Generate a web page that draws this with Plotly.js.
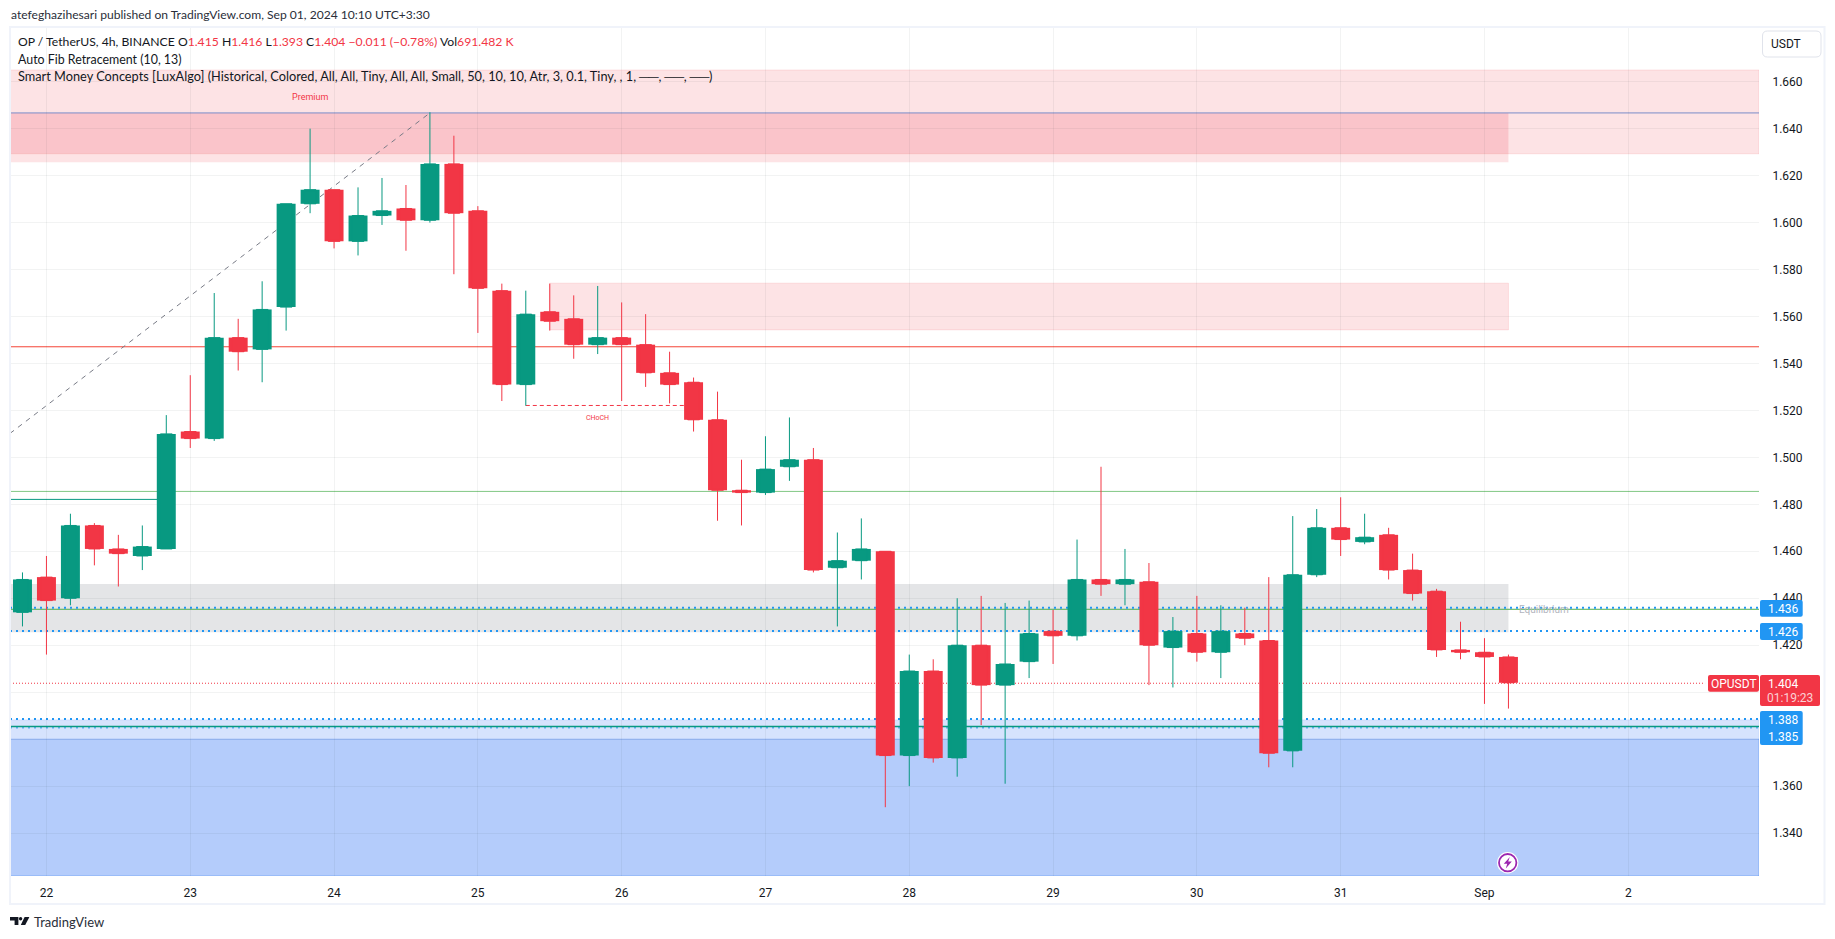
<!DOCTYPE html>
<html><head><meta charset="utf-8">
<script src="https://cdn.plot.ly/plotly-3.0.1.min.js"></script>
<style>html,body{margin:0;padding:0;background:#fff}#c{width:1835px;height:939px}</style>
</head><body><div id="c"></div>
<script>
const times=['2024-08-21 20:00','2024-08-22 00:00','2024-08-22 04:00','2024-08-22 08:00','2024-08-22 12:00','2024-08-22 16:00','2024-08-22 20:00',
'2024-08-23 00:00','2024-08-23 04:00','2024-08-23 08:00','2024-08-23 12:00','2024-08-23 16:00','2024-08-23 20:00',
'2024-08-24 00:00','2024-08-24 04:00','2024-08-24 08:00','2024-08-24 12:00','2024-08-24 16:00','2024-08-24 20:00',
'2024-08-25 00:00','2024-08-25 04:00','2024-08-25 08:00','2024-08-25 12:00','2024-08-25 16:00','2024-08-25 20:00',
'2024-08-26 00:00','2024-08-26 04:00','2024-08-26 08:00','2024-08-26 12:00','2024-08-26 16:00','2024-08-26 20:00',
'2024-08-27 00:00','2024-08-27 04:00','2024-08-27 08:00','2024-08-27 12:00','2024-08-27 16:00','2024-08-27 20:00',
'2024-08-28 00:00','2024-08-28 04:00','2024-08-28 08:00','2024-08-28 12:00','2024-08-28 16:00','2024-08-28 20:00',
'2024-08-29 00:00','2024-08-29 04:00','2024-08-29 08:00','2024-08-29 12:00','2024-08-29 16:00','2024-08-29 20:00',
'2024-08-30 00:00','2024-08-30 04:00','2024-08-30 08:00','2024-08-30 12:00','2024-08-30 16:00','2024-08-30 20:00',
'2024-08-31 00:00','2024-08-31 04:00','2024-08-31 08:00','2024-08-31 12:00','2024-08-31 16:00','2024-08-31 20:00',
'2024-09-01 00:00','2024-09-01 04:00'];
const opens=[1.434,1.449,1.440,1.471,1.461,1.458,1.461,
1.511,1.508,1.551,1.546,1.564,1.608,
1.614,1.592,1.603,1.606,1.601,1.625,
1.605,1.571,1.531,1.562,1.559,1.548,
1.551,1.548,1.536,1.532,1.516,1.486,
1.485,1.496,1.499,1.453,1.456,1.460,
1.373,1.409,1.372,1.420,1.403,1.413,
1.426,1.424,1.448,1.446,1.447,1.419,
1.425,1.417,1.425,1.422,1.375,1.450,
1.470,1.464,1.467,1.452,1.443,1.418,
1.417,1.415];
const highs=[1.451,1.458,1.476,1.472,1.467,1.471,1.518,
1.535,1.570,1.559,1.575,1.608,1.640,
1.614,1.615,1.619,1.616,1.647,1.637,
1.607,1.574,1.571,1.574,1.569,1.573,
1.566,1.561,1.545,1.534,1.528,1.499,
1.509,1.517,1.504,1.468,1.474,1.460,
1.416,1.414,1.440,1.441,1.438,1.439,
1.435,1.465,1.496,1.461,1.455,1.432,
1.441,1.437,1.436,1.449,1.475,1.478,
1.483,1.476,1.470,1.459,1.444,1.430,
1.423,1.416];
const lows=[1.428,1.416,1.437,1.454,1.445,1.452,1.461,
1.504,1.507,1.537,1.532,1.554,1.604,
1.589,1.586,1.599,1.588,1.600,1.578,
1.553,1.524,1.522,1.554,1.542,1.544,
1.524,1.530,1.523,1.511,1.473,1.471,
1.484,1.490,1.451,1.428,1.448,1.351,
1.360,1.370,1.364,1.386,1.361,1.406,
1.412,1.422,1.441,1.437,1.403,1.402,
1.413,1.406,1.420,1.368,1.368,1.449,
1.458,1.463,1.448,1.439,1.415,1.414,
1.395,1.393];
const closes=[1.448,1.439,1.471,1.461,1.459,1.462,1.510,
1.508,1.551,1.545,1.563,1.608,1.614,
1.592,1.603,1.605,1.601,1.625,1.604,
1.572,1.531,1.561,1.558,1.548,1.551,
1.548,1.536,1.531,1.516,1.486,1.485,
1.495,1.499,1.452,1.456,1.461,1.373,
1.409,1.372,1.420,1.403,1.412,1.425,
1.424,1.448,1.446,1.448,1.420,1.426,
1.417,1.426,1.423,1.374,1.450,1.470,
1.465,1.466,1.452,1.442,1.418,1.417,
1.415,1.404];
const priceTicks=[1.34,1.36,1.38,1.40,1.42,1.44,1.46,1.48,1.50,1.52,1.54,1.56,1.58,1.60,1.62,1.64,1.66];
const priceLabels=['1.340','1.360','','','1.420','1.440','1.460','1.480','1.500','1.520','1.540','1.560','1.580','1.600','1.620','1.640','1.660'];
const dayTicks=['2024-08-22','2024-08-23','2024-08-24','2024-08-25','2024-08-26','2024-08-27','2024-08-28','2024-08-29','2024-08-30','2024-08-31','2024-09-01','2024-09-02'];
const dayLabels=['22','23','24','25','26','27','28','29','30','31','Sep','2'];
const levelBlue=1.6467, levelRed=1.5471, levelLightGreen=1.4855, levelDarkGreen=1.4821, levelEq=1.4353, levelLast=1.4038, levelTeal=1.3854;
const dottedLevels=[1.4359,1.4261,1.3886,1.3848];
const fibStart=['2024-08-21 17:55',1.5102], fibEnd=['2024-08-24 16:00',1.6467];
const chochPrice=1.5221, chochFrom='2024-08-25 08:00', chochTo='2024-08-26 12:00';

const W=1835,H=939,L=10,R=1759,T=27,B=876;
const xMin='2024-08-21 17:55', xMax='2024-09-02 21:49', zoneEnd='2024-09-01 04:00';
const UP='#089981',DOWN='#f23645';
const bodyMs=11400000;
const px=x=>(x-L)/(R-L), py=y=>1-(y-T)/(B-T);
const pth=(pts)=>pts.map((p,i)=>(i?'L':'M')+px(p[0])+','+py(p[1])).join(' ')+' Z';
function round(x0,y0,x1,y1,r){const a=(x,y)=>px(x)+','+py(y);
 return 'M'+a(x0+r,y0)+' L'+a(x1-r,y0)+' Q'+a(x1,y0)+' '+a(x1,y0+r)+' L'+a(x1,y1-r)+' Q'+a(x1,y1)+' '+a(x1-r,y1)+' L'+a(x0+r,y1)+' Q'+a(x0,y1)+' '+a(x0,y1-r)+' L'+a(x0,y0+r)+' Q'+a(x0,y0)+' '+a(x0+r,y0)+' Z';}
const zone=(x0,x1,y0,y1,fill,line)=>({type:'rect',layer:'below',xref:'x',yref:'y',x0,x1,y0,y1,fillcolor:fill,line:{color:line||'rgba(0,0,0,0)',width:line?1:0}});
const hl=(y,color,width,dash,x0,x1)=>({type:'line',layer:'below',xref:'x',yref:'y',x0:x0||xMin,x1:x1||xMax,y0:y,y1:y,line:{color,width,dash:dash||'solid'}});
const box=(x0,y0,x1,y1,fill,r,line)=>({type:'path',layer:'above',xref:'paper',yref:'paper',path:round(x0,y0,x1,y1,r),fillcolor:fill,line:{color:line||'rgba(0,0,0,0)',width:line?1:0}});
const note=(text,x,y,size,color,anchor,family)=>({text,xref:'paper',yref:'paper',x:px(x),y:py(y),xanchor:anchor||'left',yanchor:'middle',showarrow:false,font:{family:(family||'Roboto')+', sans-serif',size,color}});

const pink='rgba(242,54,69,0.14)',pinkLine='rgba(242,54,69,0.12)',blue='rgba(29,102,243,0.18)';
const shapes=[
 zone(xMin,xMax,1.6293,1.665,pink,pinkLine),
 zone(xMin,zoneEnd,1.6293,1.6467,'rgba(235,50,70,0.17)'),
 zone(xMin,zoneEnd,1.6257,1.6293,pink),
 zone(chochFrom.replace('08:00','12:00'),zoneEnd,1.5543,1.5742,pink,pinkLine),
 zone(xMin,zoneEnd,1.4255,1.4461,'rgba(120,123,134,0.2)'),
 zone(xMin,xMax,1.3217,1.3882,blue,'rgba(29,102,243,0.08)'),
 zone(xMin,xMax,1.3217,1.38,blue,'rgba(29,102,243,0.25)'),
 hl(levelBlue,'#7a8cc8',1),
 hl(levelRed,'#f44336',1),
 hl(levelLightGreen,'#81c784',1),
 hl(levelDarkGreen,UP,1,'solid',xMin,times[6]),
 hl(levelEq,'#4caf50',1),
 hl(levelLast,DOWN,1,'1px,2px',xMin,'2024-09-02 12:49'),
 hl(dottedLevels[0],'#2196f3',2,'2px,4px'),
 hl(dottedLevels[1],'#2196f3',2,'2px,4px'),
 hl(dottedLevels[2],'#2196f3',2,'2px,4px'),
 hl(dottedLevels[3],'#2196f3',1,'2px,4px'),
 hl(levelTeal,UP,1.5),
 hl(chochPrice,DOWN,1,'4px,3px',chochFrom,chochTo),
 {type:'line',layer:'below',xref:'x',yref:'y',x0:fibStart[0],y0:fibStart[1],x1:fibEnd[0],y1:fibEnd[1],line:{color:'#787b86',width:1,dash:'5px,5px'}},
 {type:'rect',layer:'above',xref:'paper',yref:'paper',x0:px(10),x1:px(1824.5),y0:py(27),y1:py(904),line:{color:'#f0f3fa',width:2},fillcolor:'rgba(0,0,0,0)'},
 box(1762.5,31,1821,57,'#ffffff',5,'#e0e3eb'),
 box(1760,600,1802.7,616.7,'#2196f3',2),
 box(1760,623,1802.7,640,'#2196f3',2),
 box(1708,675,1759,691.7,DOWN,2),
 box(1760,675,1820,706,DOWN,2),
 box(1760,711,1802.7,745,'#2196f3',2),
 {type:'circle',layer:'above',xref:'paper',yref:'paper',x0:px(1497),x1:px(1518.4),y0:py(852),y1:py(873.4),fillcolor:'#ffffff',line:{width:0}},
 {type:'circle',layer:'above',xref:'paper',yref:'paper',x0:px(1499),x1:px(1516.4),y0:py(854),y1:py(871.4),fillcolor:'#ffffff',line:{color:'#9c27b0',width:1.8}},
 {type:'path',layer:'above',xref:'paper',yref:'paper',path:pth([[1509.8,857],[1503.8,863.8],[1507.2,863.8],[1505.8,868.6],[1511.8,861.6],[1508.2,861.6]]),fillcolor:'#9c27b0',line:{width:0}},
 {type:'path',layer:'above',xref:'paper',yref:'paper',path:pth([[10,917],[18.4,917],[18.4,925],[14.6,925],[14.6,920.6],[10,920.6]]),fillcolor:'#131722',line:{width:0}},
 {type:'circle',layer:'above',xref:'paper',yref:'paper',x0:px(18.9),x1:px(22.3),y0:py(917),y1:py(920.4),fillcolor:'#131722',line:{width:0}},
 {type:'path',layer:'above',xref:'paper',yref:'paper',path:pth([[24.6,917],[29.4,917],[25.2,925],[20.8,925]]),fillcolor:'#131722',line:{width:0}}
];
const red=s=>'<span style="color:#f23645">'+s+'</span>';
const ink='#131722';
const annotations=[
 note('atefeghazihesari published on TradingView.com, Sep 01, 2024 10:10 UTC+3:30',9,15,12.1,'#2a2e39','left','Lato'),
 note('OP / TetherUS, 4h, BINANCE O'+red('1.415')+' H'+red('1.416')+' L'+red('1.393')+' C'+red('1.404')+' '+red('−0.011 (−0.78%)')+' Vol'+red('691.482 K'),16,41.7,12.2,ink,'left','Lato'),
 note('Auto Fib Retracement (10, 13)',16,59,12.4,ink,'left','Lato'),
 note('Smart Money Concepts [LuxAlgo] (Historical, Colored, All, All, Tiny, All, All, Small, 50, 10, 10, Atr, 3, 0.1, Tiny, , 1, ──, ──, ──)',16,76,12.75,ink,'left','Lato'),
 note('Premium',309.5,96.7,9,DOWN,'center'),
 note('CHoCH',597,418,7,DOWN,'center'),
 note('Equilibrium',1544,609,10,'#b2b5be','center'),
 note('USDT',1786,44,12,ink,'center'),
 note('1.436',1783,608.5,12,'#ffffff','center'),
 note('1.426',1783,631.5,12,'#ffffff','center'),
 note('OPUSDT',1733.5,683.5,12,'#ffffff','center'),
 note('1.404',1783,683.5,12,'#ffffff','center'),
 note('01:19:23',1790,698,12,'#fbd0d4','center'),
 note('1.388',1783,719.5,12,'#ffffff','center'),
 note('1.385',1783,736.5,12,'#ffffff','center'),
 note('TradingView',31.5,921.5,13,'#2a2e39','left','Lato')
];
const data=[
 {type:'bar',x:times,base:opens.map((o,i)=>Math.min(o,closes[i])),y:opens.map((o,i)=>Math.abs(closes[i]-o)),width:bodyMs,
  marker:{color:opens.map((o,i)=>closes[i]>=o?UP:DOWN),line:{width:0}},hoverinfo:'skip'},
 {type:'candlestick',x:times,open:opens,high:highs,low:lows,close:closes,
  increasing:{line:{color:UP,width:1},fillcolor:UP},
  decreasing:{line:{color:DOWN,width:1},fillcolor:DOWN},whiskerwidth:0,hoverinfo:'skip'}];
const grid='rgba(42,46,57,0.06)';
const layout={width:W,height:H,margin:{l:L,r:W-R,t:T,b:H-B,pad:0},paper_bgcolor:'#fff',plot_bgcolor:'#fff',showlegend:false,boxgap:0.3,
 font:{family:'Roboto, sans-serif',size:12,color:ink},
 xaxis:{type:'date',range:[xMin,xMax],rangeslider:{visible:false},tickmode:'array',tickvals:dayTicks,ticktext:dayLabels,showgrid:true,gridcolor:grid,gridwidth:1,zeroline:false,showline:false,ticks:'outside',ticklen:6,tickcolor:'rgba(0,0,0,0)',tickfont:{size:12,color:ink}},
 yaxis:{side:'right',range:[1.3217,1.6833],tickmode:'array',tickvals:priceTicks,ticktext:priceLabels,showgrid:true,gridcolor:grid,gridwidth:1,zeroline:false,showline:false,ticks:'outside',ticklen:10,tickcolor:'rgba(0,0,0,0)',tickfont:{size:12,color:ink}},
 shapes,annotations};
Plotly.newPlot('c',data,layout,{displayModeBar:false,staticPlot:true});
</script></body></html>
